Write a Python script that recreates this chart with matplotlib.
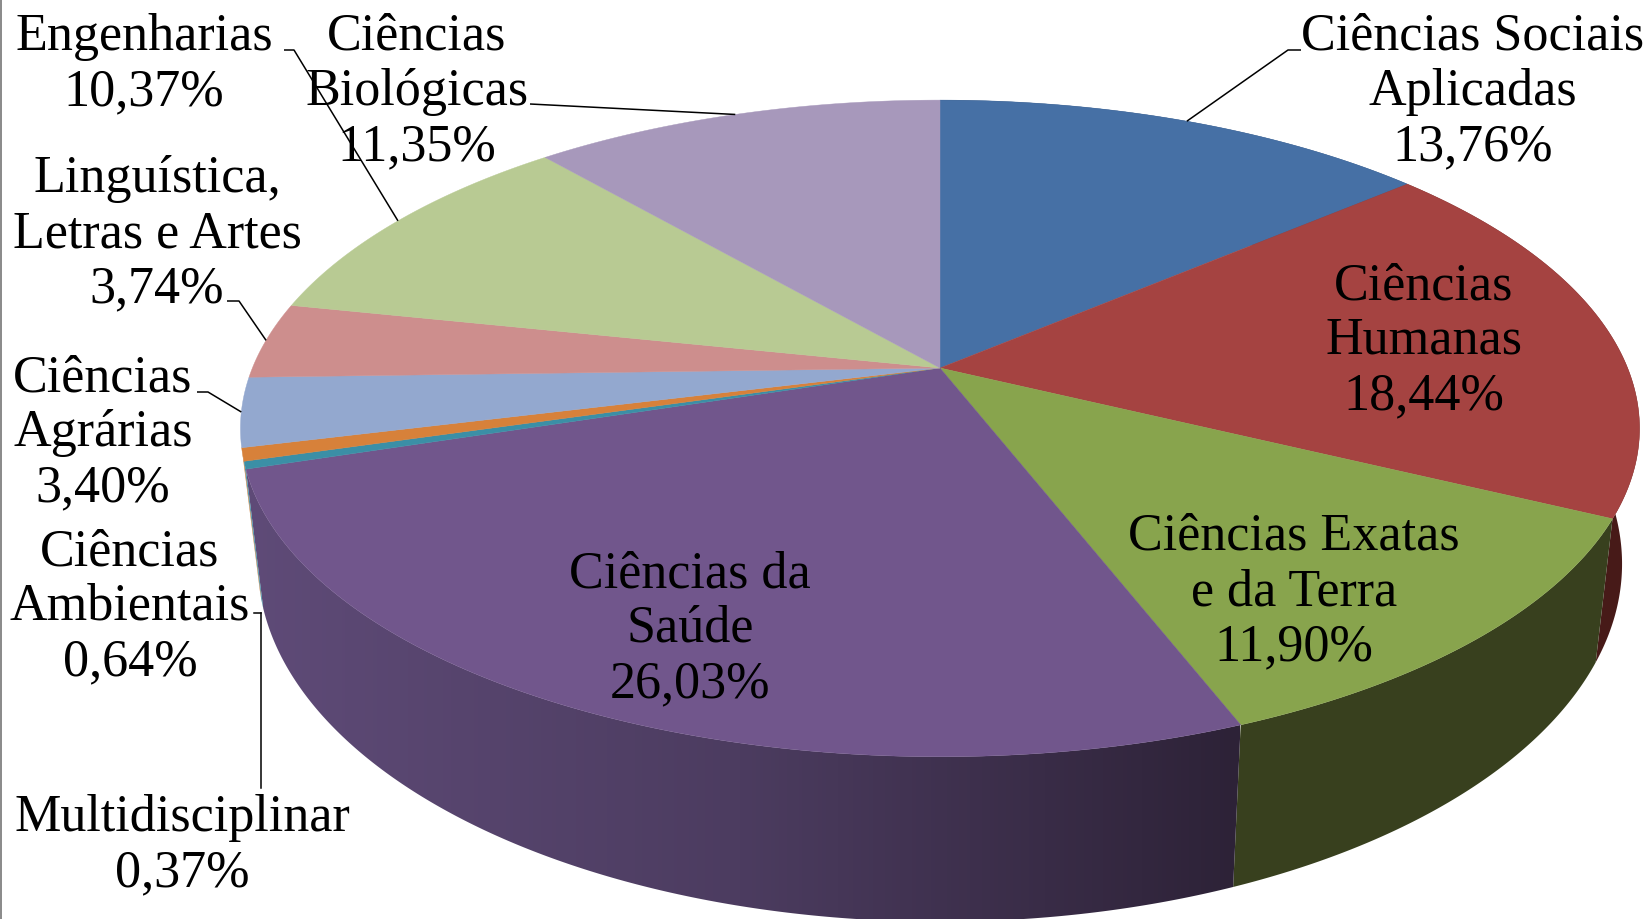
import numpy as np
import matplotlib
matplotlib.use('Agg')
import matplotlib.pyplot as plt
from matplotlib.colors import LinearSegmentedColormap
from matplotlib.patches import Polygon

# fatias no sentido horario a partir do topo
areas = ['Ciências Sociais Aplicadas', 'Ciências Humanas', 'Ciências Exatas e da Terra',
         'Ciências da Saúde', 'Multidisciplinar', 'Ciências Ambientais', 'Ciências Agrárias',
         'Linguística, Letras e Artes', 'Engenharias', 'Ciências Biológicas']
valores = [13.76, 18.44, 11.90, 26.03, 0.37, 0.64, 3.40, 3.74, 10.37, 11.35]
cores_topo = ['#4670a5', '#a54341', '#88a44d', '#71568c', '#3b8fa6', '#d7813a',
              '#93a8cf', '#cd8e8d', '#b8ca93', '#a798bb']
cores_lado = ['#2a4263', '#471a18', '#38401e', '#2e2338', '#3b8fa6', '#c87a35',
              None, None, None, None]

rotulos = [['Ciências Sociais', 'Aplicadas', '13,76%'], ['Ciências', 'Humanas', '18,44%'],
           ['Ciências Exatas', 'e da Terra', '11,90%'], ['Ciências da', 'Saúde', '26,03%'],
           ['Multidisciplinar', '0,37%'], ['Ciências', 'Ambientais', '0,64%'],
           ['Ciências', 'Agrárias', '3,40%'], ['Linguística,', 'Letras e Artes', '3,74%'],
           ['Engenharias', '10,37%'], ['Ciências', 'Biológicas', '11,35%']]
# centro x e primeira linha de base de cada rotulo, em pixels
pos_rotulos = [(1473, 50), (1424, 299), (1294, 550), (690, 587), (182, 831),
               (130, 565), (103, 391), (157, 192), (144, 50), (417, 50)]

# parametros da perspectiva
cx, cy = 940, 368
a, b, k = 687.6, 317.2, 0.184
dv, su, sv = 130, 0.975, 1.09


def topo(t):
    X, Y = np.sin(t), -np.cos(t)
    den = 1 - k * Y
    return cx + a * X / den, cy + b * Y / den


def base(t):
    x, y = topo(t)
    return cx + su * (x - cx), cy + dv + sv * (y - cy)


fig = plt.figure(figsize=(16.47, 9.19), dpi=100)
ax = fig.add_axes([0, 0, 1, 1])

lim = 2 * np.pi * np.cumsum([0] + valores) / sum(valores)

# lateral
for i in range(len(valores)):
    if cores_lado[i] is None:
        continue
    ts = np.linspace(lim[i], lim[i + 1], 200)
    xt, yt = topo(ts)
    xb, yb = base(ts)
    pts = list(zip(xt, yt)) + list(zip(xb[::-1], yb[::-1]))
    if areas[i] == 'Ciências da Saúde':
        # o roxo escurece da esquerda para a direita
        lado = Polygon(pts, closed=True, facecolor='none', edgecolor='none', transform=ax.transData)
        ax.add_patch(lado)
        cm = LinearSegmentedColormap.from_list('roxo', ['#5f4b78', '#4c3c60', '#2d2237'])
        im = ax.imshow(np.linspace(0, 1, 256).reshape(1, -1), cmap=cm, aspect='auto',
                       extent=(240, 1240, 919, 0), zorder=1)
        im.set_clip_path(lado)
    else:
        ax.add_patch(Polygon(pts, closed=True, facecolor=cores_lado[i], edgecolor='none', zorder=1))

# face de cima
for i in range(len(valores)):
    ts = np.linspace(lim[i], lim[i + 1], 200)
    xs, ys = topo(ts)
    pts = [(cx, cy)] + list(zip(xs, ys))
    ax.add_patch(Polygon(pts, closed=True, facecolor=cores_topo[i], edgecolor=cores_topo[i], lw=0.3, zorder=2))

# linhas de chamada: cotovelo em pixels, ponta na borda da fatia
meio = (lim[:-1] + lim[1:]) / 2
chamadas = {0: [(1301, 50), (1288, 50)], 7: [(227, 301), (239, 301)], 8: [(284, 50), (294, 50)],
            9: [(530, 104)], 6: [(197, 392), (208, 392)]}
for i, cot in chamadas.items():
    xs = [p[0] for p in cot] + [topo(meio[i])[0]]
    ys = [p[1] for p in cot] + [topo(meio[i])[1]]
    ax.plot(xs, ys, color='black', lw=1.1, solid_capstyle='butt', zorder=3)
ax.plot([261, 261], [613, 788], color='black', lw=1.1, zorder=3)
ax.plot([254, 261], [613, 613], color='black', lw=1.1, zorder=3)

# textos
for linhas, (x, y) in zip(rotulos, pos_rotulos):
    for j, s in enumerate(linhas):
        ax.text(x, y + j * 55, s, ha='center', va='baseline', color='black',
                family='Liberation Serif', fontsize=37.5, zorder=4)

# fio cinza na margem esquerda
ax.add_patch(Polygon([(0, 0), (2, 0), (2, 919), (0, 919)], closed=True, facecolor='#8c8c8c', edgecolor='none', zorder=5))

ax.set_xlim(0, 1647)
ax.set_ylim(919, 0)
ax.axis('off')

fig.savefig('out.png', dpi=100, facecolor='white')
